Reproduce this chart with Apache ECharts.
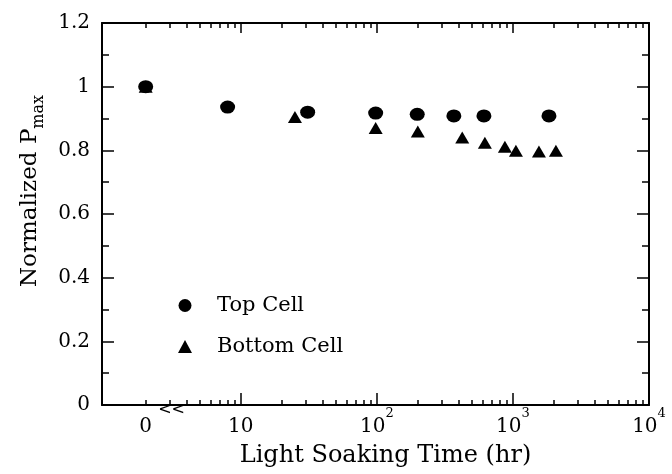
<!DOCTYPE html>
<html lang="en">
<head>
    <meta charset="UTF-8"/>
    <script src="https://cdn.jsdelivr.net/npm/echarts@6/dist/echarts.min.js"></script>
    <title>light soaking</title>
</head>
<body style="margin:0;background:#fff">

<div id="main" style="width: 672px;height:474px;"></div>
<script type="text/javascript">
    // data: light soaking time (hr) vs normalized Pmax
    var topHours = [0, 8, 31, 98, 198, 368, 612, 1840];
    var topPmax = [1.0, 0.936, 0.92, 0.917, 0.913, 0.908, 0.908, 0.908];
    var bottomHours = [0, 25, 98, 200, 424, 622, 873, 1052, 1553, 2070];
    var bottomPmax = [1.0, 0.905, 0.87, 0.859, 0.84, 0.824, 0.811, 0.799, 0.796, 0.799];

    // x ticks: decades (labelled) and the 2..9 minor ticks, in hours
    var decadeHours = [10, 100, 1000, 10000];
    var decadeExp = ['', '2', '3', '4'];
    var minorHours = [];
    [1, 10, 100, 1000].forEach(function (d) {
        for (var k = 2; k <= 9; k++) minorHours.push(k * d);
    });

    // the broken axis puts t = 0 where t = 2 hr would sit
    var ZERO_AT = Math.log10(2);

    function xPos(h) {
        return h === 0 ? ZERO_AT : Math.log10(h);
    }

    var serif = 'DejaVu Serif';
    var labelPos = [ZERO_AT].concat(decadeHours.map(xPos));
    var labelText = ['{n|0}'].concat(decadeExp.map(function (e) {
        return e ? '{n|10}{s|' + e + '}' : '{n|10}';
    }));

    function xAxisPart(position, ticks, len, withLine, withLabels) {
        return {
            type: 'value',
            position: position,
            min: -0.02,
            max: 4,
            axisLine: {show: withLine, onZero: false, lineStyle: {color: '#000', width: 2}},
            axisTick: {show: true, inside: true, length: len, customValues: ticks,
                lineStyle: {color: '#000', width: 1.5}},
            axisLabel: withLabels ? {
                show: true,
                customValues: labelPos,
                margin: 2,
                color: '#000',
                formatter: function (v) {
                    for (var i = 0; i < labelPos.length; i++) {
                        if (Math.abs(v - labelPos[i]) < 1e-6) return labelText[i];
                    }
                    return '';
                },
                rich: {
                    n: {fontFamily: serif, fontSize: 20, color: '#000', padding: [10, 0, 0, 0], verticalAlign: 'bottom'},
                    s: {fontFamily: serif, fontSize: 13, color: '#000', verticalAlign: 'top'}
                }
            } : {show: false},
            splitLine: {show: false}
        };
    }

    var myChart = echarts.init(document.getElementById('main'));

    var yCommon = {
        type: 'value',
        min: 0,
        max: 1.2,
        interval: 0.2,
        axisLine: {show: true, onZero: false, lineStyle: {color: '#000', width: 2}},
        axisTick: {show: true, inside: true, length: 12, lineStyle: {color: '#000', width: 1.5}},
        minorTick: {show: true, splitNumber: 2, length: 7, lineStyle: {color: '#000', width: 1.5}},
        splitLine: {show: false},
        minorSplitLine: {show: false}
    };

    var bottomAxis = xAxisPart('bottom', decadeHours.map(xPos), 12, true, true);
    bottomAxis.name = 'Light Soaking Time (hr)';
    bottomAxis.nameLocation = 'middle';
    bottomAxis.nameGap = 39;
    bottomAxis.nameTextStyle = {fontFamily: serif, fontSize: 24, color: '#000', padding: [0, 0, 0, 20]};

    var option = {
        animation: false,
        grid: {left: 102, right: 23, top: 23, bottom: 69},
        legend: {
            orient: 'vertical',
            left: 173,
            top: 290,
            itemWidth: 14,
            itemHeight: 13,
            itemGap: 20,
            textStyle: {fontFamily: serif, fontSize: 21, color: '#000', padding: [0, 0, 0, 20]},
            data: ['Top Cell', 'Bottom Cell']
        },
        xAxis: [
            bottomAxis,
            xAxisPart('bottom', [ZERO_AT].concat(minorHours.map(xPos)), 5, false, false),
            xAxisPart('top', decadeHours.map(xPos), 10, true, false),
            xAxisPart('top', minorHours.map(xPos), 5, false, false)
        ],
        yAxis: [
            Object.assign({}, yCommon, {
                position: 'left',
                name: '{a|Normalized P}{b|max}',
                nameLocation: 'middle',
                nameGap: 60,
                nameTextStyle: {
                    padding: [0, 0, 0, 46],
                    rich: {
                        a: {fontFamily: serif, fontSize: 23, color: '#000', lineHeight: 23, verticalAlign: 'top'},
                        b: {fontFamily: serif, fontSize: 16, color: '#000', lineHeight: 16, verticalAlign: 'top', padding: [12, 0, 0, 0]}
                    }
                },
                axisLabel: {margin: 12, color: '#000', fontFamily: serif, fontSize: 20}
            }),
            Object.assign({}, yCommon, {position: 'right', axisLabel: {show: false}})
        ],
        series: [
            {
                name: 'Bottom Cell',
                type: 'scatter',
                symbol: 'triangle',
                symbolSize: [14, 12],
                itemStyle: {color: '#000', opacity: 1},
                data: bottomHours.map(function (h, i) {
                    return [xPos(h), bottomPmax[i]];
                })
            },
            {
                name: 'Top Cell',
                type: 'scatter',
                symbol: 'circle',
                symbolSize: [15, 13],
                itemStyle: {color: '#000', opacity: 1},
                data: topHours.map(function (h, i) {
                    return [xPos(h), topPmax[i]];
                })
            }
        ]
    };

    myChart.setOption(option);

    // axis break mark, placed at t ~ 3 hr on the bottom axis
    var brk = myChart.convertToPixel({xAxisIndex: 0, yAxisIndex: 0}, [Math.log10(3.1), 0]);
    myChart.setOption({
        graphic: [{
            type: 'text',
            x: brk[0],
            y: brk[1] + 5,
            style: {
                text: '<<',
                font: '16px DejaVu Sans',
                fill: '#000',
                align: 'center',
                verticalAlign: 'middle'
            }
        }]
    });
</script>
</body>
</html>
